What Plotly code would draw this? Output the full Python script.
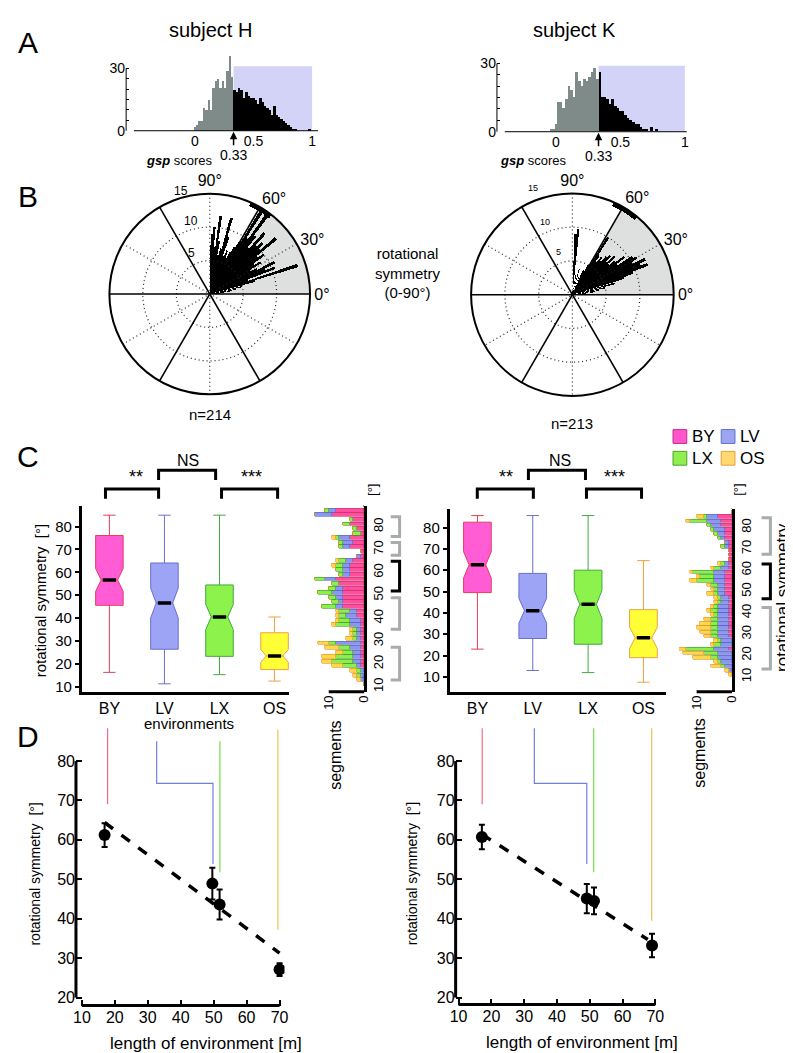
import plotly.graph_objects as go
import numpy as np

W, H = 793, 1053
FONT = "Liberation Sans, Arial, Helvetica, sans-serif"
NARROW = "Liberation Sans Narrow, Liberation Sans, Arial, sans-serif"


def fx(x):
    return x / W


def fy(y):
    return 1 - y / H


# ---------------- Panel A : gsp score histograms ----------------
threshold = 0.33
gsp_gray_x_H = [0.00, 0.02, 0.04, 0.06, 0.08, 0.10, 0.12, 0.14, 0.16, 0.18, 0.20,
                0.22, 0.24, 0.26, 0.28, 0.30, 0.32]
gsp_gray_n_H = [2, 3, 5, 5, 11, 10, 15, 10, 21, 24, 25, 21, 24, 21, 29, 36, 26]
gsp_black_x = [0.34, 0.36, 0.38, 0.40, 0.42, 0.44, 0.46, 0.48, 0.50, 0.52, 0.54,
               0.56, 0.58, 0.60, 0.62, 0.64, 0.66, 0.68, 0.70, 0.72, 0.74, 0.76,
               0.78, 0.80, 0.82, 0.84, 0.86, 0.88, 0.90, 0.92, 0.94, 0.96, 0.98, 1.00]
gsp_black_n_H = [20, 19, 21, 20, 16, 19, 17, 16, 16, 15, 13, 16, 14, 12, 11, 10, 8,
                 12, 8, 7, 6, 5, 4, 3, 2, 1, 1, 0, 0, 0, 0, 0, 1, 0]
gsp_gray_x_K = [-0.04, -0.02, 0.00, 0.02, 0.04, 0.06, 0.08, 0.10, 0.12, 0.14, 0.16,
                0.18, 0.20, 0.22, 0.24, 0.26, 0.28, 0.30, 0.32]
gsp_gray_n_K = [1, 1, 3, 13, 13, 10, 14, 20, 18, 15, 26, 22, 20, 23, 22, 24, 26, 28, 23]
gsp_black_n_K = [26, 15, 15, 14, 12, 14, 11, 10, 9, 9, 7, 6, 5, 4, 3, 3, 2, 1, 1, 0,
                 2, 0, 1, 0, 0, 0, 0, 0, 0, 0, 0, 0, 0, 0]

# ---------------- Panel B : rose plots ----------------
theta_H = [4, 7, 10, 13, 16, 18, 20, 22, 24, 26, 28, 30, 32, 34, 36, 38, 40, 42, 44,
           46, 48, 50, 52, 54, 56, 58, 60, 62, 64, 66, 68, 70, 72, 74, 76, 78, 80, 82,
           84, 86, 88]
r_H = [2, 3, 4, 5, 7, 13.8, 6, 10.5, 9, 10.8, 8, 7, 9, 8, 10, 9, 12.9, 10, 11, 10,
       12.3, 9, 11, 14.5, 10, 14.8, 9, 8, 7, 6, 7, 6, 9, 11.8, 7, 6, 8, 11.8, 7, 10, 9]
theta_K = [6, 9, 12, 15, 18, 20, 22, 24, 26, 28, 30, 32, 34, 36, 38, 40, 42, 44, 46,
           48, 50, 52, 54, 56, 58, 60, 62, 64, 66, 70, 75, 80, 85, 87]
r_K = [3, 4, 5, 6.5, 8, 9.5, 12, 11, 12, 10, 11, 10.5, 8, 9.5, 8, 7, 8.5, 7, 8, 7.5,
       6.5, 7, 6, 7, 10, 6, 5, 4, 4, 3, 4, 3, 9.8, 9]
mean_angle = [59, 58]
mean_span = [14, 16]
radial_ticks = ["5", "10", "15"]
n_cells = ["n=214", "n=213"]

# ---------------- Panel C : box plots ----------------
envs = ["BY", "LV", "LX", "OS"]
lower_H = [16.3, 11.3, 15.3, 12.5]
q1_H = [45.6, 26.4, 23.3, 17.5]
med_H = [56.7, 46.6, 40.5, 23.5]
q3_H = [76.1, 64.1, 54.5, 33.6]
upper_H = [85.0, 85.0, 85.0, 40.5]
notch_H = [5.0, 6.5, 5.5, 2.8]
lower_K = [23.0, 13.0, 12.0, 7.5]
q1_K = [49.5, 28.0, 25.3, 19.0]
med_K = [62.5, 41.0, 44.0, 28.3]
q3_K = [82.5, 58.5, 60.0, 41.5]
upper_K = [85.6, 85.6, 85.6, 64.5]
notch_K = [6.2, 5.8, 6.5, 5.0]
signif = ["**", "NS", "***"]

# side histograms (segments per 2 deg bin)
seg_bins = [11, 13, 15, 17, 19, 21, 23, 25, 27, 29, 31, 33, 35, 37, 39, 41, 43, 45, 47,
            49, 51, 53, 55, 57, 59, 61, 63, 65, 67, 69, 71, 73, 75, 77, 79, 81, 83, 85,
            87, 89]
seg_BY_H = [0, 0, 0, 0, 1, 1, 1, 1, 1, 1, 1, 1, 1, 1, 1, 2, 2, 6, 6, 6, 6, 6, 7, 8, 4,
            4, 4, 3, 1, 1, 4, 3, 4, 1, 2, 4, 3, 9, 8, 0]
seg_LV_H = [0, 1, 1, 1, 1, 2, 2, 2, 3, 7, 1, 1, 1, 3, 3, 3, 2, 2, 1, 2, 3, 2, 0, 3, 2,
            2, 2, 2, 1, 0, 2, 3, 3, 0, 0, 0, 0, 5, 2, 0]
seg_LX_H = [0, 0, 1, 1, 4, 6, 5, 3, 3, 2, 1, 1, 1, 4, 3, 2, 3, 4, 2, 2, 4, 2, 2, 3, 1,
            2, 2, 2, 0, 0, 1, 1, 1, 2, 1, 2, 1, 0, 1, 0]
seg_OS_H = [0, 1, 1, 2, 3, 3, 4, 2, 4, 3, 2, 1, 1, 1, 1, 1, 1, 0, 0, 0, 0, 0, 0, 0, 0,
            0, 1, 1, 0, 0, 0, 0, 1, 0, 0, 0, 0, 0, 0, 0]
seg_BY_K = [0, 0, 0, 0, 0, 0, 1, 0, 0, 1, 1, 1, 1, 1, 1, 1, 1, 1, 1, 2, 2, 2, 2, 2, 2,
            1, 1, 1, 1, 1, 1, 1, 2, 2, 2, 3, 3, 4, 0, 0]
seg_LV_K = [0, 1, 2, 3, 4, 4, 4, 3, 3, 3, 3, 3, 3, 3, 3, 3, 3, 2, 2, 2, 2, 2, 3, 3, 3,
            2, 1, 0, 0, 0, 1, 1, 1, 2, 3, 3, 4, 3, 0, 0]
seg_LX_K = [0, 0, 1, 1, 2, 4, 8, 2, 1, 2, 2, 2, 2, 2, 1, 2, 1, 1, 1, 1, 1, 2, 5, 4, 6,
            2, 1, 0, 0, 0, 1, 0, 1, 1, 1, 1, 5, 1, 0, 0]
seg_OS_K = [1, 1, 3, 1, 5, 6, 2, 1, 1, 2, 3, 4, 3, 2, 1, 1, 1, 1, 1, 2, 1, 1, 2, 1, 1,
            1, 1, 0, 0, 0, 0, 0, 0, 0, 0, 0, 1, 2, 0, 0]
# symmetry groups beside the side histograms (low, high, significant)
grp_lo_H = [75.7, 67.5, 51.9, 35.1, 13.0]
grp_hi_H = [84.3, 73.1, 64.9, 48.9, 27.3]
grp_sig_H = [False, False, True, False, False]
grp_lo_K = [67.5, 46.6, 13.7]
grp_hi_K = [84.6, 62.9, 42.5]
grp_sig_K = [False, True, False]

# ---------------- Panel D : symmetry vs environment length ----------------
len_H = [16.9, 49.6, 51.8, 70.0]
sym_H = [61.2, 48.9, 43.6, 27.1]
err_H = [3.0, 4.0, 3.8, 1.6]
len_K = [17.1, 49.1, 51.3, 69.0]
sym_K = [60.7, 45.1, 44.5, 33.2]
err_K = [3.1, 3.7, 3.4, 3.0]
fit_x_H = [16.9, 70.0]
fit_y_H = [64.4, 31.3]
fit_x_K = [17.1, 67.7]
fit_y_K = [61.4, 34.7]
conn_x_H = [17.8, 49.8, 51.9, 69.5]
conn_top_H = [88.3, 85.0, 85.0, 88.0]
conn_bot_H = [69.0, 53.9, 51.8, 37.2]
conn_x_K = [17.2, 49.1, 51.2, 68.9]
conn_top_K = [88.3, 88.3, 88.3, 88.3]
conn_bot_K = [69.0, 53.9, 51.8, 39.5]
lv_top_x = [32.7, 33.1]
lv_elbow_y = [74.3, 74.3]

# ---------------- styles ----------------
box_fill = ["#FF5CD6", "#9DA3F5", "#8DF24B", "#FFFF38"]
box_line = ["#E0405A", "#6870D0", "#40A840", "#F0A040"]
seg_fill = ["#FF4F9E", "#8C96F0", "#8CF04C", "#FFD84A"]
seg_line = ["#C8306A", "#5560C0", "#3A9A2A", "#E09020"]
conn_col = ["#F06A88", "#7080D8", "#74E048", "#F0C050"]
legend_fill = ["#FF55CC", "#9DA5F0", "#90EE50", "#FFD870"]
legend_line = ["#C03090", "#6070C8", "#50A030", "#E0A040"]
DOT = "1px,3px"

fig = go.Figure()

# ---- Panel A traces ----
A_sets = [
    (gsp_gray_x_H, gsp_gray_n_H, gsp_black_x, gsp_black_n_H, "x", "y"),
    (gsp_gray_x_K, gsp_gray_n_K, gsp_black_x, gsp_black_n_K, "x2", "y2"),
]
for gx, gn, bx, bn, xa, ya in A_sets:
    fig.add_trace(go.Bar(x=gx, y=gn, width=0.02, marker=dict(color="#7F8B89", line_width=0),
                         xaxis=xa, yaxis=ya, showlegend=False))
    fig.add_trace(go.Bar(x=bx, y=bn, width=0.02, marker=dict(color="black", line_width=0),
                         xaxis=xa, yaxis=ya, showlegend=False))

# ---- Panel B traces ----
ring_theta = list(range(0, 362, 2))
for sp, th, rr, ma, ms in [("polar", theta_H, r_H, mean_angle[0], mean_span[0]),
                           ("polar2", theta_K, r_K, mean_angle[1], mean_span[1])]:
    fig.add_trace(go.Barpolar(r=[15], theta=[30], width=[60], marker=dict(color="#DEDFDF", line_width=0),
                              subplot=sp, showlegend=False))
    fig.add_trace(go.Barpolar(r=rr, theta=th, width=[2.2] * len(th),
                              marker=dict(color="black", line_width=0), subplot=sp, showlegend=False))
    fig.add_trace(go.Barpolar(r=[0.7], base=[14.4], theta=[ma], width=[ms],
                              marker=dict(color="black", line_width=0), subplot=sp, showlegend=False))
    for rad in [5, 10]:
        fig.add_trace(go.Scatterpolar(r=[rad] * len(ring_theta), theta=ring_theta, mode="lines",
                                      line=dict(color="#222", width=1.2, dash=DOT), subplot=sp,
                                      showlegend=False, hoverinfo="skip"))
    fig.add_trace(go.Scatterpolar(r=[15, 15, None, 15, 15, None, 15, 15],
                                  theta=[30, 210, None, 90, 270, None, 150, 330], mode="lines",
                                  line=dict(color="#222", width=1.2, dash=DOT), subplot=sp,
                                  showlegend=False, hoverinfo="skip"))
    fig.add_trace(go.Scatterpolar(r=[15, 15, None, 15, 15, None, 15, 15],
                                  theta=[0, 180, None, 60, 240, None, 120, 300], mode="lines",
                                  line=dict(color="black", width=1.6), subplot=sp,
                                  showlegend=False, hoverinfo="skip"))

# ---- Panel C traces ----
C_sets = [
    (lower_H, q1_H, med_H, q3_H, upper_H, notch_H, "x3", "y3"),
    (lower_K, q1_K, med_K, q3_K, upper_K, notch_K, "x5", "y5"),
]
for lo, a, m, b, up, nt, xa, ya in C_sets:
    for i in range(4):
        fig.add_trace(go.Box(x=[i + 1], q1=[a[i]], median=[m[i]], q3=[b[i]], lowerfence=[lo[i]],
                             upperfence=[up[i]], notchspan=[nt[i]], notched=True, notchwidth=0.2,
                             width=0.5, whiskerwidth=0.45, fillcolor=box_fill[i],
                             line=dict(color=box_line[i], width=1), boxpoints=False,
                             xaxis=xa, yaxis=ya, showlegend=False, hoverinfo="skip"))
    mx, my = [], []
    for i in range(4):
        mx += [i + 1 - 0.12, i + 1 + 0.12, None]
        my += [m[i], m[i], None]
    fig.add_trace(go.Scatter(x=mx, y=my, mode="lines", line=dict(color="black", width=3.5),
                             xaxis=xa, yaxis=ya, showlegend=False, hoverinfo="skip"))

S_sets = [
    ([seg_BY_H, seg_LV_H, seg_LX_H, seg_OS_H], "x4", "y4"),
    ([seg_BY_K, seg_LV_K, seg_LX_K, seg_OS_K], "x6", "y6"),
]
for series, xa, ya in S_sets:
    for i, vals in enumerate(series):
        fig.add_trace(go.Bar(y=seg_bins, x=vals, orientation="h", width=1.7,
                             marker=dict(color=seg_fill[i], line=dict(color=seg_line[i], width=0.6)),
                             xaxis=xa, yaxis=ya, showlegend=False, hoverinfo="skip"))

# ---- Panel D traces ----
D_sets = [
    (len_H, sym_H, err_H, fit_x_H, fit_y_H, conn_x_H, conn_top_H, conn_bot_H, 0, "x7", "y7"),
    (len_K, sym_K, err_K, fit_x_K, fit_y_K, conn_x_K, conn_top_K, conn_bot_K, 1, "x8", "y8"),
]
for L, S, E, fxs, fys, cx, ct, cb, k, xa, ya in D_sets:
    for i in range(4):
        if i == 1:
            xs = [lv_top_x[k], lv_top_x[k], cx[i], cx[i]]
            ys = [ct[i], lv_elbow_y[k], lv_elbow_y[k], cb[i]]
        else:
            xs = [cx[i], cx[i]]
            ys = [ct[i], cb[i]]
        fig.add_trace(go.Scatter(x=xs, y=ys, mode="lines", line=dict(color=conn_col[i], width=1.2),
                                 xaxis=xa, yaxis=ya, showlegend=False, hoverinfo="skip"))
    fig.add_trace(go.Scatter(x=fxs, y=fys, mode="lines", line=dict(color="black", width=3.5, dash="dash"),
                             xaxis=xa, yaxis=ya, showlegend=False, hoverinfo="skip"))
    fig.add_trace(go.Scatter(x=L, y=S, mode="markers", marker=dict(color="black", size=12),
                             error_y=dict(type="data", array=E, color="black", thickness=2, width=3),
                             xaxis=xa, yaxis=ya, showlegend=False))

# ---------------- axes ----------------
tf = lambda s: dict(family=FONT, size=s, color="black")
base_ax = dict(showgrid=False, zeroline=False, showline=False, ticks="", color="black")

layout = dict(
    width=W, height=H, margin=dict(l=0, r=0, t=0, b=0),
    paper_bgcolor="white", plot_bgcolor="white", barmode="stack", bargap=0,
    font=dict(family=FONT, color="black"),
    showlegend=False,
)

# Panel A axes
layout["xaxis"] = dict(base_ax, domain=[fx(114), fx(309)], range=[-0.587, 1.05], anchor="y",
                       tickvals=[0, 0.5, 1], ticktext=["0", "0.5", "1"], tickfont=tf(14))
layout["yaxis"] = dict(base_ax, domain=[fy(121), fy(45)], range=[0, 36.2], anchor="x",
                       tickvals=[0, 5, 10, 15, 20, 25, 30], ticktext=["0", "", "", "", "", "", "30"],
                       ticks="inside", ticklen=3, tickwidth=1, tickcolor="black", tickfont=tf(14))
layout["xaxis2"] = dict(base_ax, domain=[fx(491), fx(684)], range=[-0.458, 1.015], anchor="y2",
                        tickvals=[0, 0.5, 1], ticktext=["0", "0.5", "1"], tickfont=tf(14))
layout["yaxis2"] = dict(base_ax, domain=[fy(122), fy(48)], range=[0, 32.2], anchor="x2",
                        tickvals=[0, 5, 10, 15, 20, 25, 30], ticktext=["0", "", "", "", "", "", "30"],
                        ticks="inside", ticklen=3, tickwidth=1, tickcolor="black", tickfont=tf(14))

# Panel B polars
for name, cx_, cy_, rpx in [("polar", 199, 286, 102), ("polar2", 567.7, 286.7, 103)]:
    layout[name] = dict(
        domain=dict(x=[fx(cx_ - rpx), fx(cx_ + rpx)], y=[fy(cy_ + rpx), fy(cy_ - rpx)]),
        bgcolor="white", barmode="overlay",
        radialaxis=dict(range=[0, 15], tickvals=[5, 10, 15], showgrid=False, showline=False,
                        ticks="", showticklabels=False),
        angularaxis=dict(rotation=0, direction="counterclockwise", tickvals=[0, 30, 60, 90],
                         ticktext=["0°", "30°", "60°", "90°"], showgrid=False, showline=True,
                         linecolor="black", linewidth=2, ticks="", tickfont=tf(16)),
    )

# Panel C axes
for xa, ya, xd, yd, xr, yr in [("xaxis3", "yaxis3", (69, 280), (500, 688), [0.5, 4.27], [7.8, 89.1]),
                               ("xaxis5", "yaxis5", (443, 663), (503, 688), [0.5, 4.41], [3.0, 88.8])]:
    xn = "x" + xa[5:]
    yn = "y" + ya[5:]
    layout[xa] = dict(base_ax, domain=[fx(xd[0]), fx(xd[1])], range=xr, anchor=yn,
                      tickvals=[1, 2, 3, 4], ticktext=envs, showline=True, linewidth=3,
                      linecolor="black", tickfont=tf(16))
    layout[ya] = dict(base_ax, domain=[fy(yd[1]), fy(yd[0])], range=yr, anchor=xn,
                      tickvals=[10, 20, 30, 40, 50, 60, 70, 80], showline=True, linewidth=3,
                      linecolor="black", ticks="outside", ticklen=4, tickwidth=1.5,
                      tickcolor="black", tickfont=tf(15))

for xa, ya, xd, yd, xr, yr in [("xaxis4", "yaxis4", (300, 356), (500, 688), [15.56, 0], [7.8, 89.1]),
                               ("xaxis6", "yaxis6", (676, 730), (503, 688), [15.0, 0], [3.0, 88.8])]:
    xn = "x" + xa[5:]
    yn = "y" + ya[5:]
    layout[xa] = dict(base_ax, domain=[fx(xd[0]), fx(xd[1])], range=xr, anchor=yn,
                      tickvals=[0, 10], ticktext=["0", "10"], tickangle=-90, tickfont=tf(13))
    layout[ya] = dict(base_ax, domain=[fy(yd[1]), fy(yd[0])], range=yr, anchor=xn, side="right",
                      tickvals=[10, 20, 30, 40, 50, 60, 70, 80, 90], tickangle=-90,
                      showline=True, linewidth=3, linecolor="black", tickfont=tf(13))

# Panel D axes
for xa, ya, xd, yd, xr, yr in [("xaxis7", "yaxis7", (63, 275), (720, 1005), [8.21, 71.5], [18.0, 89.5]),
                               ("xaxis8", "yaxis8", (449, 660), (720, 1004), [9.1, 72.4], [18.24, 89.5])]:
    xn = "x" + xa[5:]
    yn = "y" + ya[5:]
    layout[xa] = dict(base_ax, domain=[fx(xd[0]), fx(xd[1])], range=xr, anchor=yn,
                      tickvals=[10, 20, 30, 40, 50, 60, 70], ticks="inside", ticklen=6, tickwidth=2,
                      tickcolor="black", tickfont=dict(family=NARROW, size=16, color="black"))
    layout[ya] = dict(base_ax, domain=[fy(yd[1]), fy(yd[0])], range=yr, anchor=xn,
                      tickvals=[20, 30, 40, 50, 60, 70, 80], ticks="inside", ticklen=6, tickwidth=2,
                      tickcolor="black", tickfont=dict(family=NARROW, size=16, color="black"))

# ---------------- shapes ----------------
shapes = []


def pline(x0, y0, x1, y1, w=1, color="black"):
    shapes.append(dict(type="line", xref="paper", yref="paper", x0=fx(x0), y0=fy(y0),
                       x1=fx(x1), y1=fy(y1), line=dict(color=color, width=w)))


def ppath(pts, w=3, color="black"):
    d = "M " + " L ".join(f"{fx(a):.5f},{fy(b):.5f}" for a, b in pts)
    shapes.append(dict(type="path", xref="paper", yref="paper", path=d,
                       line=dict(color=color, width=w)))


# Panel A shading and spines
shapes.append(dict(type="rect", xref="x", yref="y", x0=threshold, x1=1.0, y0=0, y1=31,
                   fillcolor="#D3D3F8", line_width=0, layer="below"))
shapes.append(dict(type="rect", xref="x2", yref="y2", x0=threshold, x1=1.0, y0=0, y1=29,
                   fillcolor="#D3D3F8", line_width=0, layer="below"))
pline(122, 121, 309, 121, 1)
pline(114, 58, 114, 121, 1)
pline(499, 122, 684, 122, 1)
pline(491, 53, 491, 122, 1)

# Panel C significance brackets
for (x0, x1, ytop, yleg) in [(93, 147, 483, 493), (147, 205, 464, 474), (211, 268, 483, 493),
                             (471, 528, 483, 493), (523, 581, 464, 474), (582, 638, 483, 493)]:
    ppath([(x0, yleg), (x0, ytop), (x1, ytop), (x1, yleg)], w=3)

# side histogram bottom spines
pline(320, 688, 356, 688, 3)
pline(694, 688, 730, 688, 3)


def ymap(v, top, bot, r0, r1):
    return bot - (v - r0) / (r1 - r0) * (bot - top)


for lo_l, hi_l, sig_l, xv, xl, top, bot, r0, r1 in [
        (grp_lo_H, grp_hi_H, grp_sig_H, 392, 383, 500, 688, 7.8, 89.1),
        (grp_lo_K, grp_hi_K, grp_sig_K, 769, 760, 503, 688, 3.0, 88.8)]:
    for lo, hi, sg in zip(lo_l, hi_l, sig_l):
        ya_, yb_ = ymap(hi, top, bot, r0, r1), ymap(lo, top, bot, r0, r1)
        ppath([(xl, ya_), (xv, ya_), (xv, yb_), (xl, yb_)], w=3,
              color="black" if sg else "#A8ADAC")

# Panel D spines
pline(63, 758, 63, 997, 3)
pline(69, 1005, 270, 1005, 3)
pline(449, 758, 449, 997, 3)
pline(452, 1004, 652, 1004, 3)

# legend squares
for i, (lx, ly) in enumerate([(670, 430), (719, 430), (670, 452), (719, 452)]):
    shapes.append(dict(type="rect", xref="paper", yref="paper", x0=fx(lx), x1=fx(lx + 14),
                       y0=fy(ly + 7), y1=fy(ly - 7), fillcolor=legend_fill[i],
                       line=dict(color=legend_line[i], width=1)))

layout["shapes"] = shapes

# ---------------- annotations ----------------
anns = []


def ann(text, x, y, size=14, angle=0, xanchor="center", family=FONT):
    anns.append(dict(text=text, x=fx(x), y=fy(y), xref="paper", yref="paper", showarrow=False,
                     font=dict(family=family, size=size, color="black"), xanchor=xanchor,
                     yanchor="middle", textangle=angle))


ann("A", 14, 32, 30)
ann("B", 14, 187, 30)
ann("C", 14, 450, 30)
ann("D", 14, 733, 30)
ann("subject H", 200, 19, 20)
ann("subject K", 570, 19, 20)
ann("<b><i>gsp</i></b> scores", 168, 151, 13)
ann("<b><i>gsp</i></b> scores", 528, 151, 13)
ann("rotational<br>symmetry<br>(0-90°)", 400, 265, 15)
ann(n_cells[0], 199, 408, 15)
ann(n_cells[1], 567, 417, 15)
# radial tick labels of the rose plots
for txt, x, y in zip(radial_ticks, [180, 180, 170], [245, 212, 182]):
    ann(txt, x, y, 12)
for txt, x, y in zip(radial_ticks, [554, 540, 528], [244, 213, 179]):
    ann(txt, x, y, 9)
ann("**", 124, 471, 18)
ann(signif[1], 177, 454, 16)
ann("***", 241, 471, 18)
ann("**", 500, 471, 18)
ann(signif[1], 555, 454, 16)
ann("***", 610, 471, 18)
ann("rotational symmetry  [°]", 27, 596, 15, -90)
ann("environments", 178, 720, 15)
ann("segments", 327, 752, 16, -90)
ann("segments", 697, 750, 16, -90)
ann("[°]", 365, 484, 13, -90)
ann("[°]", 737, 484, 13, -90)
ann("rotational symmetry", 782, 593, 17, -90)
ann("rotational symmetry  [°]", 21, 872, 14, -90, family=NARROW)
ann("rotational symmetry  [°]", 405, 872, 14, -90, family=NARROW)
ann("length of environment [m]", 195, 1043, 17)
ann("length of environment [m]", 577, 1042, 17)
for i, (lx, ly) in enumerate([(670, 430), (719, 430), (670, 452), (719, 452)]):
    ann(envs[i], lx + 17, ly, 17, xanchor="left")

for xr_, yr_ in [("x", "y"), ("x2", "y2")]:
    anns.append(dict(text="0.33", x=threshold, y=0, xref=xr_, yref=yr_, ax=0, ay=24,
                     showarrow=True, arrowhead=2, arrowsize=1, arrowwidth=1.5, arrowcolor="black",
                     font=dict(family=FONT, size=14, color="black"), standoff=1))

layout["annotations"] = anns
fig.update_layout(**layout)
fig.write_html("out.html")
